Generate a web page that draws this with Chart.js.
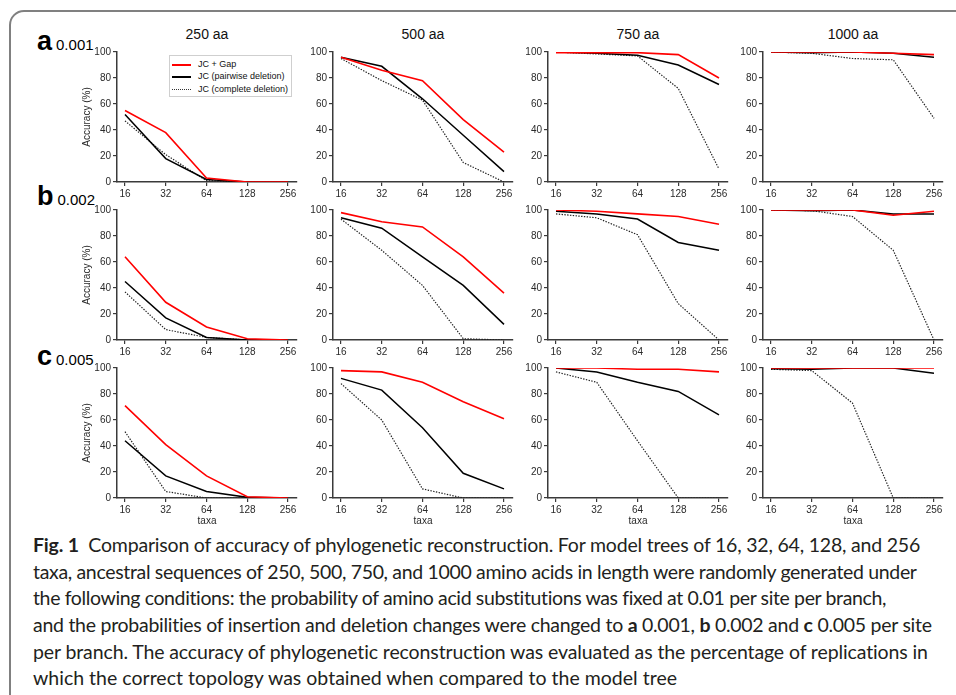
<!DOCTYPE html>
<html>
<head>
<meta charset="utf-8">
<script src="https://cdn.jsdelivr.net/npm/chart.js@4.4.1/dist/chart.umd.min.js"></script>
<style>
  html, body { margin: 0; padding: 0; background: #fff; }
  body { width: 956px; height: 695px; position: relative; overflow: hidden; font-family: "Liberation Sans", Arial, sans-serif; }
  .frame { position: absolute; left: 9px; top: 10px; width: 1100px; height: 900px; border: 2px solid #808080; border-radius: 15px; box-sizing: border-box; }
  canvas { position: absolute; }
  .coltitle { position: absolute; width: 180px; text-align: center; font-size: 14px; line-height: 14px; color: #111; }
  .rowlab { position: absolute; left: 37px; line-height: 27px; color: #000; white-space: nowrap; }
  .rowlab b { font-size: 27px; font-weight: bold; }
  .rowlab span { font-size: 15px; margin-left: 4px; }
  .legend { position: absolute; left: 169px; top: 55px; width: 123px; height: 42px; border: 1px solid #cfcfcf; background: #fff; box-sizing: border-box; font-size: 9px; color: #111; z-index: 5; }
  .legend .item { position: absolute; left: 0; height: 12px; line-height: 12px; white-space: nowrap; }
  .legend .sw { position: absolute; left: 2px; width: 19px; top: 6px; }
  .legend .tx { position: absolute; left: 28px; top: 0; }
  .caption { position: absolute; left: 33px; top: 0; font-family: Lato, "Open Sans", sans-serif; font-size: 19.5px; color: #231f20; white-space: nowrap; }
  .caption div { position: absolute; left: 0; height: 27px; line-height: 27px; white-space: nowrap; }
</style>
</head>
<body>
<div class="frame"></div>
<div id="root"></div>
<script>
// ---------------- data ----------------
const taxa = [16, 32, 64, 128, 256];
const seqLengths = ['250 aa', '500 aa', '750 aa', '1000 aa'];
const rowLetters = ['a', 'b', 'c'];
const indelRates = ['0.001', '0.002', '0.005'];
const seriesNames = ['JC + Gap', 'JC (pairwise deletion)', 'JC (complete deletion)'];
const yTicks = [0, 20, 40, 60, 80, 100];

// accuracy (%) per sequence length (250, 500, 750, 1000 aa), indel rate 0.001
const gap_001      = [[55, 38, 3, 0, 0], [96, 86, 78, 48, 23], [99.5, 99.5, 99.5, 98, 80], [100, 100, 100, 99, 98]];
const pairwise_001 = [[52, 18, 2, 0, 0], [96, 89, 64, 36, 8], [100, 99, 97.5, 90, 75], [100, 99.5, 100, 99, 96]];
const complete_001 = [[47, 21, 1, 0, 0], [95, 78, 63, 15, 0], [100, 98.5, 97, 72, 10], [100, 99, 95, 94, 49]];
// indel rate 0.002
const gap_002      = [[64, 29, 10, 1, 0], [98, 91, 87, 64, 36], [100, 99, 97, 95, 89], [100, 100, 100, 96, 99]];
const pairwise_002 = [[45, 17, 2, 0, 0], [94, 86, 64, 42, 12], [99, 97, 93, 75, 69], [100, 99.5, 100, 97, 97]];
const complete_002 = [[37, 8, 2, 0, 0], [93, 69, 42, 1, 0], [97, 94, 81, 28, 0], [100, 99.5, 95, 69, 0]];
// indel rate 0.005
const gap_005      = [[71, 41, 17, 1, 0], [98, 97, 89, 74, 61], [100, 100, 99, 99, 97], [100, 100, 100, 100, 100]];
const pairwise_005 = [[44, 17, 5, 0.5, 0], [92, 83, 54, 19, 7], [100, 97, 89, 82, 64], [99.5, 99, 100, 100, 96]];
const complete_005 = [[51, 5, 0, 0, 0], [88, 60, 7, 0, 0], [97, 89, 44, 0, 0], [99, 98, 73, 0, 0]];

const rowsGap = [gap_001, gap_002, gap_005];
const rowsPair = [pairwise_001, pairwise_002, pairwise_005];
const rowsComp = [complete_001, complete_002, complete_005];

// ---------------- layout ----------------
const axisLeft = [117, 333, 548, 763];
const areaTop = [52, 210, 368];
const areaW = 180, areaH = 130, padTop = 8, padRight = 6;
const axisColor = '#3a3a3a';
const textColor = '#2a2a2a';

const root = document.getElementById('root');

function el(tag, cls, css, html) {
  const e = document.createElement(tag);
  if (cls) e.className = cls;
  if (css) Object.assign(e.style, css);
  if (html !== undefined) e.innerHTML = html;
  root.appendChild(e);
  return e;
}

// column titles
seqLengths.forEach((t, j) => {
  el('div', 'coltitle', { left: axisLeft[j] + 'px', top: '27px' }, t);
});
// row labels
const rowBase = [49, 204, 364];
rowLetters.forEach((l, i) => {
  el('div', 'rowlab', { top: (rowBase[i] - 21) + 'px' }, '<b>' + l + '</b><span>' + indelRates[i] + '</span>');
});

const xMin = 16 / Math.pow(2, 8 / 40.75);
const xMax = 256 * Math.pow(2, 9 / 40.75);

for (let i = 0; i < 3; i++) {
  for (let j = 0; j < 4; j++) {
    const yW = j === 0 ? 60 : 40;
    const xH = i === 2 ? 30 : 22;
    const W = yW + areaW + padRight;
    const H = padTop + areaH + xH;
    const c = document.createElement('canvas');
    c.width = W; c.height = H;
    c.style.left = (axisLeft[j] - yW) + 'px';
    c.style.top = (areaTop[i] - padTop) + 'px';
    c.style.width = W + 'px'; c.style.height = H + 'px';
    root.appendChild(c);

    const mk = (arr) => taxa.map((t, k) => ({ x: t, y: arr[k] }));
    new Chart(c.getContext('2d'), {
      type: 'line',
      data: {
        datasets: [
          { label: seriesNames[0], data: mk(rowsGap[i][j]), borderColor: '#ff0000', borderWidth: 1.6 },
          { label: seriesNames[1], data: mk(rowsPair[i][j]), borderColor: '#000000', borderWidth: 1.5 },
          { label: seriesNames[2], data: mk(rowsComp[i][j]), borderColor: '#222222', borderWidth: 1.2, borderDash: [1.4, 1.4] }
        ]
      },
      options: {
        responsive: false,
        animation: false,
        devicePixelRatio: 1,
        layout: { padding: { top: padTop, right: padRight, left: 0, bottom: 0 } },
        elements: { point: { radius: 0 }, line: { tension: 0 } },
        plugins: { legend: { display: false }, tooltip: { enabled: false } },
        scales: {
          x: {
            type: 'logarithmic',
            min: xMin, max: xMax,
            afterBuildTicks: (s) => { s.ticks = taxa.map(v => ({ value: v })); },
            afterFit: (s) => { s.height = xH; },
            ticks: { callback: (v) => String(v), color: textColor, font: { family: 'Liberation Sans', size: 10 }, padding: 2, maxRotation: 0, autoSkip: false },
            grid: { display: true, drawOnChartArea: false, drawTicks: true, tickLength: 4, color: axisColor, lineWidth: 1.2 },
            border: { display: true, color: axisColor, width: 1.5 },
            title: { display: i === 2, text: 'taxa', color: textColor, font: { family: 'Liberation Sans', size: 10 }, padding: { top: 0, bottom: 1 } }
          },
          y: {
            type: 'linear',
            min: 0, max: 100,
            afterBuildTicks: (s) => { s.ticks = yTicks.map(v => ({ value: v })); },
            afterFit: (s) => { s.width = yW; },
            ticks: { color: textColor, font: { family: 'Liberation Sans', size: 10 }, padding: 2 },
            grid: { display: true, drawOnChartArea: false, drawTicks: true, tickLength: 4, color: axisColor, lineWidth: 1.2 },
            border: { display: true, color: axisColor, width: 1.5 },
            title: { display: j === 0, text: 'Accuracy (%)', color: textColor, font: { family: 'Liberation Sans', size: 10 }, padding: { top: 24, bottom: 0 } }
          }
        }
      }
    });
  }
}

// legend (in first panel)
const lg = el('div', 'legend');
const legendStyles = ['2px solid #ff0000', '2px solid #000000', '1.5px dotted #333333'];
seriesNames.forEach((n, k) => {
  const it = document.createElement('div');
  it.className = 'item';
  it.style.top = (1.5 + k * 12.7) + 'px';
  it.innerHTML = '<div class="sw" style="border-top:' + legendStyles[k] + '"></div><div class="tx">' + n + '</div>';
  lg.appendChild(it);
});

// caption
const captionLines = [
  '<b>Fig. 1</b>&nbsp; Comparison of accuracy of phylogenetic reconstruction. For model trees of 16, 32, 64, 128, and 256',
  'taxa, ancestral sequences of 250, 500, 750, and 1000 amino acids in length were randomly generated under',
  'the following conditions: the probability of amino acid substitutions was fixed at 0.01 per site per branch,',
  'and the probabilities of insertion and deletion changes were changed to <b>a</b> 0.001, <b>b</b> 0.002 and <b>c</b> 0.005 per site',
  'per branch. The accuracy of phylogenetic reconstruction was evaluated as the percentage of replications in',
  'which the correct topology was obtained when compared to the model tree'
];
const captionWidths = [888, 884, 854, 900, 896, 644];
const cap = el('div', 'caption');
captionLines.forEach((t, k) => {
  const d = document.createElement('div');
  d.style.top = (531 + k * 26.67) + 'px';
  d.innerHTML = t;
  cap.appendChild(d);
  const w = d.getBoundingClientRect().width;
  const n = d.textContent.length;
  if (n > 1) d.style.letterSpacing = ((captionWidths[k] - w) / (n - 1)).toFixed(3) + 'px';
});
</script>
</body>
</html>
